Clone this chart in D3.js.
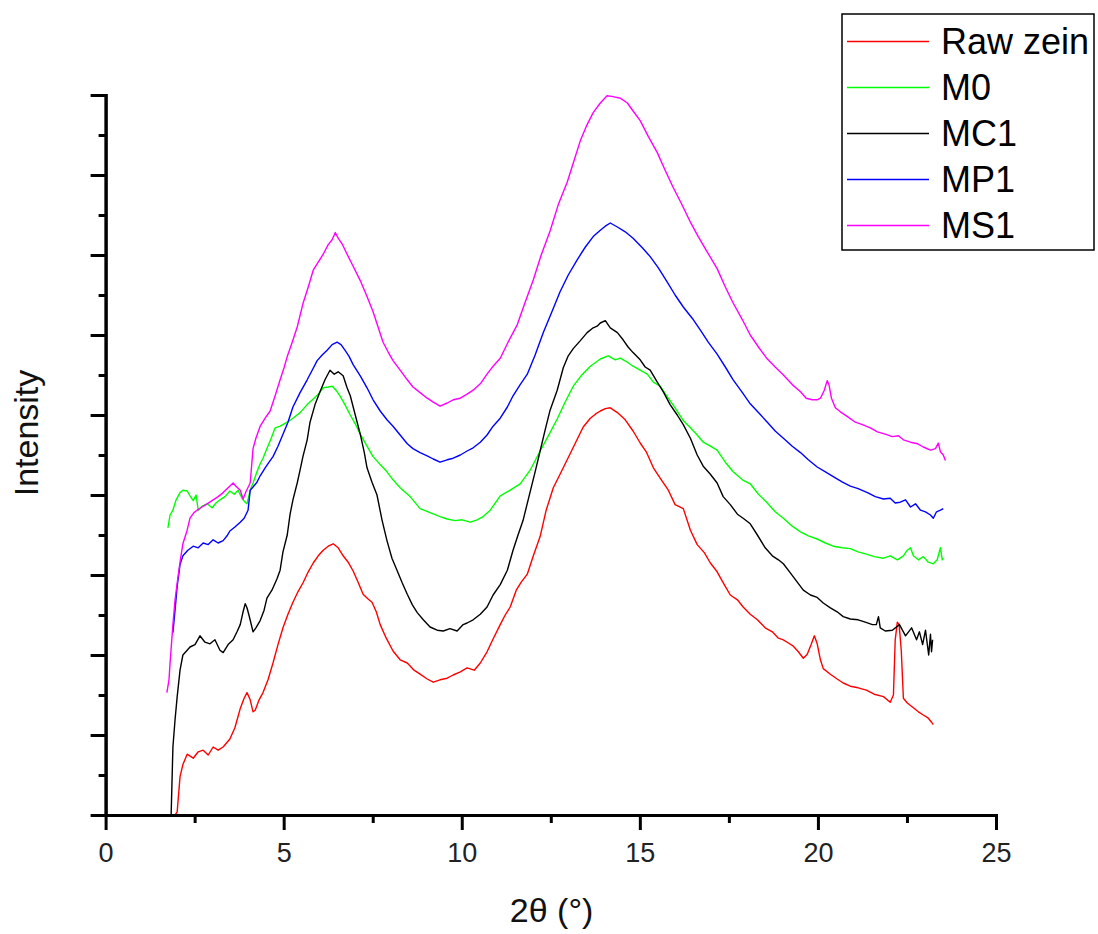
<!DOCTYPE html>
<html>
<head>
<meta charset="utf-8">
<script src="https://cdn.jsdelivr.net/npm/d3@7"></script>
<style>
  body { margin: 0; background: #fff; }
  svg { display: block; font-family: "Liberation Sans", Arial, sans-serif; }
  .axis path, .axis line { stroke: #000; stroke-width: 3; }
  .axis text { font-size: 27px; fill: #222; }
  .labels { font-size: 34px; fill: #111; }
  .legend text { font-size: 36px; fill: #000; }
</style>
</head>
<body>
<div id="vis"></div>
<script>
// XRD patterns, [2θ in degrees, intensity in arbitrary units]
const rawZein = [[1.95,0],[2.01,0.04],[2.09,0.48],[2.17,0.63],[2.29,0.76],[2.46,0.71],[2.6,0.79],[2.74,0.81],[2.88,0.75],[3.02,0.85],[3.16,0.81],[3.3,0.85],[3.49,0.95],[3.63,1.09],[3.78,1.33],[3.89,1.46],[3.97,1.53],[4.06,1.44],[4.14,1.29],[4.2,1.31],[4.31,1.44],[4.42,1.53],[4.56,1.69],[4.7,1.9],[4.84,2.13],[4.98,2.34],[5.12,2.51],[5.26,2.66],[5.4,2.79],[5.54,2.9],[5.69,3.04],[5.83,3.15],[5.97,3.24],[6.11,3.31],[6.25,3.36],[6.39,3.39],[6.53,3.34],[6.67,3.24],[6.81,3.16],[6.95,3.05],[7.09,2.91],[7.23,2.76],[7.37,2.7],[7.48,2.66],[7.6,2.54],[7.71,2.38],[7.88,2.21],[8.07,2.05],[8.27,1.94],[8.47,1.9],[8.66,1.81],[8.83,1.76],[9.03,1.7],[9.2,1.66],[9.39,1.69],[9.59,1.71],[9.76,1.75],[9.96,1.79],[10.15,1.84],[10.35,1.81],[10.52,1.9],[10.71,2.04],[10.88,2.2],[11.08,2.38],[11.22,2.5],[11.36,2.6],[11.53,2.81],[11.67,2.91],[11.84,3.01],[12.01,3.24],[12.2,3.48],[12.37,3.81],[12.57,4.09],[12.76,4.26],[12.96,4.44],[13.19,4.65],[13.41,4.85],[13.61,4.96],[13.75,5.01],[13.89,5.05],[14.03,5.08],[14.17,5.09],[14.37,5.03],[14.59,4.94],[14.81,4.8],[15.01,4.65],[15.18,4.54],[15.38,4.34],[15.57,4.21],[15.8,4.06],[15.99,3.88],[16.22,3.83],[16.42,3.56],[16.61,3.38],[16.81,3.28],[16.98,3.15],[17.17,3.04],[17.37,2.88],[17.54,2.75],[17.74,2.69],[17.9,2.6],[18.1,2.51],[18.3,2.44],[18.52,2.34],[18.72,2.29],[18.89,2.21],[19.03,2.19],[19.17,2.15],[19.31,2.11],[19.45,2.04],[19.59,1.96],[19.7,2.01],[19.81,2.13],[19.9,2.24],[19.98,2.14],[20.07,1.94],[20.15,1.83],[20.35,1.76],[20.54,1.7],[20.71,1.65],[20.91,1.61],[21.13,1.59],[21.36,1.56],[21.58,1.51],[21.84,1.48],[22.03,1.41],[22.12,1.5],[22.17,2.19],[22.23,2.41],[22.28,2.38],[22.34,2.06],[22.4,1.46],[22.51,1.4],[22.68,1.34],[22.82,1.29],[22.96,1.25],[23.1,1.21],[23.19,1.16],[23.24,1.13]];

const m0 = [[1.75,3.59],[1.81,3.75],[1.89,3.81],[1.98,3.94],[2.09,4.03],[2.17,4.06],[2.29,4.05],[2.37,3.99],[2.46,3.93],[2.54,4.0],[2.6,3.81],[2.71,3.86],[2.85,3.89],[2.99,3.84],[3.1,3.9],[3.21,3.94],[3.35,3.98],[3.49,4.05],[3.61,4.01],[3.72,4.06],[3.83,3.96],[3.92,3.91],[3.97,3.89],[4.06,4.06],[4.14,4.15],[4.25,4.29],[4.34,4.39],[4.42,4.46],[4.53,4.58],[4.65,4.71],[4.76,4.84],[4.9,4.86],[5.1,4.91],[5.26,4.96],[5.46,5.03],[5.66,5.13],[5.83,5.2],[5.97,5.26],[6.11,5.34],[6.25,5.35],[6.36,5.36],[6.47,5.31],[6.58,5.24],[6.72,5.13],[6.87,5.0],[7.01,4.89],[7.15,4.76],[7.34,4.61],[7.51,4.48],[7.71,4.38],[7.9,4.29],[8.07,4.19],[8.27,4.09],[8.55,3.98],[8.83,3.83],[9.11,3.78],[9.39,3.73],[9.59,3.7],[9.81,3.68],[10.01,3.69],[10.24,3.66],[10.43,3.69],[10.6,3.73],[10.8,3.81],[11.08,3.99],[11.36,4.06],[11.64,4.14],[11.92,4.31],[12.2,4.55],[12.43,4.74],[12.68,4.95],[12.9,5.16],[13.13,5.36],[13.35,5.49],[13.61,5.61],[13.89,5.7],[14.11,5.74],[14.31,5.69],[14.45,5.71],[14.65,5.66],[14.81,5.61],[15.01,5.56],[15.21,5.51],[15.38,5.41],[15.57,5.36],[15.77,5.23],[15.99,5.09],[16.22,4.93],[16.42,4.84],[16.61,4.75],[16.78,4.66],[16.98,4.61],[17.17,4.56],[17.4,4.41],[17.62,4.29],[17.88,4.19],[18.1,4.14],[18.33,4.01],[18.56,3.91],[18.8,3.79],[19.03,3.71],[19.28,3.61],[19.51,3.54],[19.73,3.49],[19.98,3.45],[20.21,3.4],[20.43,3.36],[20.69,3.34],[20.91,3.33],[21.13,3.29],[21.36,3.26],[21.58,3.23],[21.84,3.21],[22.03,3.24],[22.23,3.19],[22.4,3.24],[22.51,3.31],[22.6,3.34],[22.68,3.24],[22.82,3.19],[22.96,3.23],[23.1,3.16],[23.24,3.14],[23.35,3.19],[23.41,3.29],[23.44,3.34],[23.49,3.19],[23.52,3.21]];

const mc1 = [[1.84,0],[1.89,0.85],[1.95,1.19],[2.01,1.48],[2.09,1.81],[2.17,2.0],[2.29,2.06],[2.37,2.1],[2.51,2.13],[2.65,2.24],[2.79,2.16],[2.93,2.14],[3.07,2.19],[3.21,2.06],[3.3,2.03],[3.44,2.13],[3.58,2.19],[3.69,2.29],[3.78,2.38],[3.86,2.54],[3.92,2.64],[3.97,2.59],[4.03,2.49],[4.14,2.29],[4.22,2.34],[4.34,2.43],[4.45,2.56],[4.53,2.71],[4.67,2.81],[4.81,2.95],[4.9,3.06],[4.98,3.29],[5.1,3.5],[5.18,3.76],[5.26,3.94],[5.38,4.15],[5.46,4.31],[5.54,4.48],[5.66,4.69],[5.74,4.91],[5.88,5.13],[6.02,5.29],[6.16,5.44],[6.3,5.56],[6.42,5.51],[6.53,5.54],[6.67,5.49],[6.78,5.34],[6.87,5.24],[7.01,5.0],[7.15,4.76],[7.26,4.54],[7.34,4.34],[7.48,4.16],[7.62,4.0],[7.76,3.69],[7.9,3.43],[8.04,3.21],[8.19,3.05],[8.33,2.9],[8.47,2.76],[8.61,2.63],[8.75,2.53],[8.92,2.44],[9.11,2.35],[9.31,2.31],[9.48,2.3],[9.67,2.33],[9.87,2.3],[10.04,2.38],[10.15,2.4],[10.32,2.44],[10.52,2.51],[10.71,2.6],[10.88,2.75],[11.08,2.88],[11.28,3.06],[11.44,3.31],[11.58,3.5],[11.72,3.68],[11.92,4.04],[12.06,4.29],[12.2,4.55],[12.34,4.81],[12.48,5.06],[12.68,5.31],[12.85,5.59],[12.99,5.74],[13.13,5.83],[13.33,5.93],[13.52,6.03],[13.69,6.09],[13.8,6.11],[13.89,6.15],[14.03,6.18],[14.17,6.09],[14.37,6.03],[14.53,5.94],[14.67,5.85],[14.81,5.78],[15.01,5.69],[15.15,5.6],[15.29,5.56],[15.49,5.41],[15.66,5.29],[15.85,5.13],[16.05,5.0],[16.22,4.88],[16.42,4.71],[16.61,4.5],[16.78,4.36],[16.98,4.26],[17.17,4.15],[17.34,3.98],[17.54,3.88],[17.74,3.76],[17.9,3.71],[18.1,3.64],[18.3,3.5],[18.52,3.34],[18.72,3.24],[18.89,3.19],[19.03,3.14],[19.22,3.03],[19.42,2.91],[19.59,2.81],[19.79,2.75],[19.98,2.72],[20.15,2.65],[20.35,2.59],[20.54,2.54],[20.71,2.48],[20.91,2.45],[21.13,2.44],[21.33,2.41],[21.53,2.38],[21.64,2.38],[21.7,2.48],[21.75,2.34],[21.89,2.3],[22.09,2.31],[22.29,2.38],[22.46,2.24],[22.63,2.34],[22.77,2.19],[22.85,2.29],[22.94,2.13],[23.02,2.31],[23.11,2.0],[23.16,2.26],[23.19,2.04],[23.22,2.19]];

const mp1 = [[1.89,2.28],[1.95,2.56],[2.01,2.86],[2.09,3.13],[2.17,3.24],[2.31,3.31],[2.46,3.36],[2.6,3.34],[2.74,3.4],[2.88,3.38],[3.02,3.44],[3.16,3.4],[3.3,3.43],[3.41,3.49],[3.49,3.55],[3.63,3.6],[3.78,3.66],[3.89,3.71],[4.0,3.81],[4.06,4.06],[4.14,4.1],[4.25,4.16],[4.34,4.24],[4.48,4.34],[4.59,4.41],[4.7,4.48],[4.84,4.61],[4.98,4.76],[5.12,4.91],[5.26,5.1],[5.46,5.28],[5.66,5.44],[5.8,5.56],[5.94,5.68],[6.08,5.75],[6.22,5.81],[6.36,5.88],[6.5,5.91],[6.61,5.88],[6.72,5.81],[6.84,5.73],[6.95,5.63],[7.15,5.49],[7.34,5.34],[7.51,5.19],[7.71,5.05],[7.9,4.94],[8.07,4.86],[8.27,4.75],[8.47,4.64],[8.63,4.58],[8.83,4.53],[9.03,4.49],[9.2,4.45],[9.39,4.41],[9.59,4.44],[9.76,4.46],[9.96,4.5],[10.15,4.55],[10.32,4.59],[10.52,4.66],[10.71,4.75],[10.88,4.86],[11.08,4.96],[11.28,5.1],[11.44,5.24],[11.64,5.38],[11.84,5.51],[12.06,5.75],[12.29,6.03],[12.54,6.3],[12.76,6.54],[12.99,6.75],[13.24,6.94],[13.47,7.1],[13.69,7.23],[13.89,7.31],[14.03,7.36],[14.17,7.4],[14.37,7.35],[14.59,7.29],[14.81,7.21],[15.07,7.09],[15.29,6.98],[15.52,6.84],[15.77,6.66],[15.99,6.5],[16.22,6.35],[16.47,6.21],[16.7,6.06],[16.92,5.91],[17.17,5.76],[17.4,5.6],[17.62,5.44],[17.88,5.28],[18.1,5.14],[18.33,5.03],[18.58,4.91],[18.8,4.8],[19.03,4.71],[19.28,4.61],[19.51,4.53],[19.73,4.44],[19.98,4.35],[20.21,4.29],[20.43,4.23],[20.69,4.16],[20.91,4.11],[21.13,4.08],[21.39,4.03],[21.61,3.98],[21.84,3.95],[22.03,3.96],[22.17,3.9],[22.31,3.91],[22.46,3.94],[22.6,3.85],[22.74,3.89],[22.88,3.81],[23.02,3.79],[23.16,3.75],[23.24,3.71],[23.33,3.79],[23.44,3.81],[23.52,3.83]];

const ms1 = [[1.72,1.53],[1.78,1.69],[1.81,1.9],[1.89,2.38],[1.95,2.69],[2.01,2.9],[2.09,3.16],[2.17,3.39],[2.29,3.56],[2.37,3.71],[2.48,3.78],[2.57,3.81],[2.71,3.85],[2.85,3.89],[3.02,3.94],[3.16,3.98],[3.3,4.03],[3.44,4.09],[3.58,4.15],[3.66,4.11],[3.78,4.06],[3.86,3.95],[3.94,4.04],[4.06,4.15],[4.14,4.58],[4.22,4.71],[4.34,4.86],[4.48,4.96],[4.62,5.05],[4.76,5.24],[4.9,5.44],[5.01,5.59],[5.1,5.73],[5.24,5.91],[5.38,6.1],[5.54,6.39],[5.69,6.6],[5.83,6.81],[5.97,6.91],[6.11,7.01],[6.25,7.13],[6.36,7.19],[6.45,7.28],[6.53,7.21],[6.64,7.14],[6.78,7.01],[6.95,6.86],[7.15,6.68],[7.34,6.48],[7.51,6.29],[7.65,6.1],[7.79,5.91],[7.93,5.79],[8.07,5.68],[8.27,5.56],[8.47,5.44],[8.63,5.35],[8.83,5.28],[9.03,5.21],[9.2,5.16],[9.39,5.11],[9.59,5.15],[9.76,5.19],[9.96,5.21],[10.15,5.26],[10.32,5.31],[10.52,5.39],[10.71,5.51],[10.88,5.61],[11.08,5.71],[11.3,5.91],[11.56,6.13],[11.78,6.41],[12.01,6.69],[12.23,7.0],[12.48,7.3],[12.71,7.63],[12.96,7.91],[13.16,8.19],[13.33,8.43],[13.52,8.63],[13.69,8.78],[13.89,8.9],[14.08,8.99],[14.25,8.98],[14.45,8.96],[14.65,8.9],[14.81,8.8],[15.01,8.68],[15.24,8.48],[15.49,8.28],[15.71,8.06],[15.94,7.84],[16.16,7.65],[16.42,7.41],[16.64,7.23],[16.89,7.04],[17.17,6.83],[17.4,6.6],[17.62,6.4],[17.88,6.19],[18.1,6.0],[18.33,5.85],[18.56,5.71],[18.8,5.6],[19.03,5.5],[19.28,5.38],[19.51,5.29],[19.67,5.21],[19.84,5.19],[19.98,5.19],[20.07,5.21],[20.18,5.31],[20.26,5.43],[20.31,5.38],[20.38,5.21],[20.49,5.09],[20.63,5.04],[20.83,4.98],[21.05,4.91],[21.25,4.88],[21.47,4.84],[21.67,4.79],[21.89,4.76],[22.09,4.73],[22.26,4.74],[22.4,4.69],[22.6,4.66],[22.8,4.64],[22.96,4.6],[23.16,4.56],[23.3,4.58],[23.38,4.65],[23.44,4.54],[23.52,4.5],[23.58,4.43]];

const seriesNames = ["Raw zein", "M0", "MC1", "MP1", "MS1"];
const seriesColors = ["#ff0000", "#00ff00", "#000000", "#0000ff", "#ff00ff"];
const seriesData = [rawZein, m0, mc1, mp1, ms1];

const xMajorTicks = [0, 5, 10, 15, 20, 25];
const xMinorTicks = [2.5, 7.5, 12.5, 17.5, 22.5];
const yMajorTicks = [0, 1, 2, 3, 4, 5, 6, 7, 8, 9];
const yMinorTicks = [0.5, 1.5, 2.5, 3.5, 4.5, 5.5, 6.5, 7.5, 8.5];

const margin = { top: 95, right: 102, bottom: 119, left: 105.6 };
const width = 1098 - margin.left - margin.right;
const height = 934 - margin.top - margin.bottom;

const root = d3
  .select("#vis")
  .append("svg")
  .attr("width", 1098)
  .attr("height", 934);

const svg = root
  .append("g")
  .attr("transform", `translate(${margin.left},${margin.top})`);

const xScale = d3.scaleLinear().domain([0, 25]).range([0, width]);
const yScale = d3.scaleLinear().domain([0, 9]).range([height, 0]);

// curves first, axes drawn over them
const line = d3
  .line()
  .x((d) => xScale(d[0]))
  .y((d) => yScale(d[1]));

svg
  .selectAll(".curve")
  .data(seriesData)
  .join("path")
  .attr("class", "curve")
  .attr("d", line)
  .attr("fill", "none")
  .attr("stroke", (d, i) => seriesColors[i])
  .attr("stroke-width", 1.4)
  .attr("stroke-linejoin", "round");

// x axis: major with labels, minor without
svg
  .append("g")
  .attr("class", "axis")
  .attr("transform", `translate(0,${height})`)
  .call(d3.axisBottom(xScale).tickValues(xMinorTicks).tickSize(8).tickSizeOuter(0).tickFormat(""));
svg
  .append("g")
  .attr("class", "axis")
  .attr("transform", `translate(0,${height})`)
  .call(d3.axisBottom(xScale).tickValues(xMajorTicks).tickSize(15).tickSizeOuter(0).tickPadding(13));

// y axis: no labels
svg
  .append("g")
  .attr("class", "axis")
  .call(d3.axisLeft(yScale).tickValues(yMinorTicks).tickSize(7).tickSizeOuter(0).tickFormat(""));
svg
  .append("g")
  .attr("class", "axis")
  .call(d3.axisLeft(yScale).tickValues(yMajorTicks).tickSize(15).tickSizeOuter(0).tickFormat(""));

svg.selectAll(".axis .domain").attr("stroke-linecap", "square");

svg
  .append("text")
  .attr("class", "labels")
  .attr("x", 446)
  .attr("y", height + 107)
  .attr("text-anchor", "middle")
  .text("2θ (°)");

svg
  .append("text")
  .attr("class", "labels")
  .attr("transform", "rotate(-90)")
  .attr("x", -338)
  .attr("y", -68)
  .attr("text-anchor", "middle")
  .text("Intensity");

// legend box in the top right corner
const legend = root.append("g").attr("class", "legend");
legend
  .append("rect")
  .attr("x", 842)
  .attr("y", 14)
  .attr("width", 252)
  .attr("height", 236)
  .attr("fill", "#fff")
  .attr("stroke", "#000")
  .attr("stroke-width", 1.5);

const rows = legend
  .selectAll(".row")
  .data(seriesNames)
  .join("g")
  .attr("class", "row")
  .attr("transform", (d, i) => `translate(0,${41.5 + i * 46})`);

rows
  .append("line")
  .attr("x1", 847)
  .attr("x2", 929)
  .attr("stroke", (d, i) => seriesColors[i])
  .attr("stroke-width", 1.4);

rows
  .append("text")
  .attr("x", 941)
  .attr("y", 12)
  .text((d) => d);
</script>
</body>
</html>
